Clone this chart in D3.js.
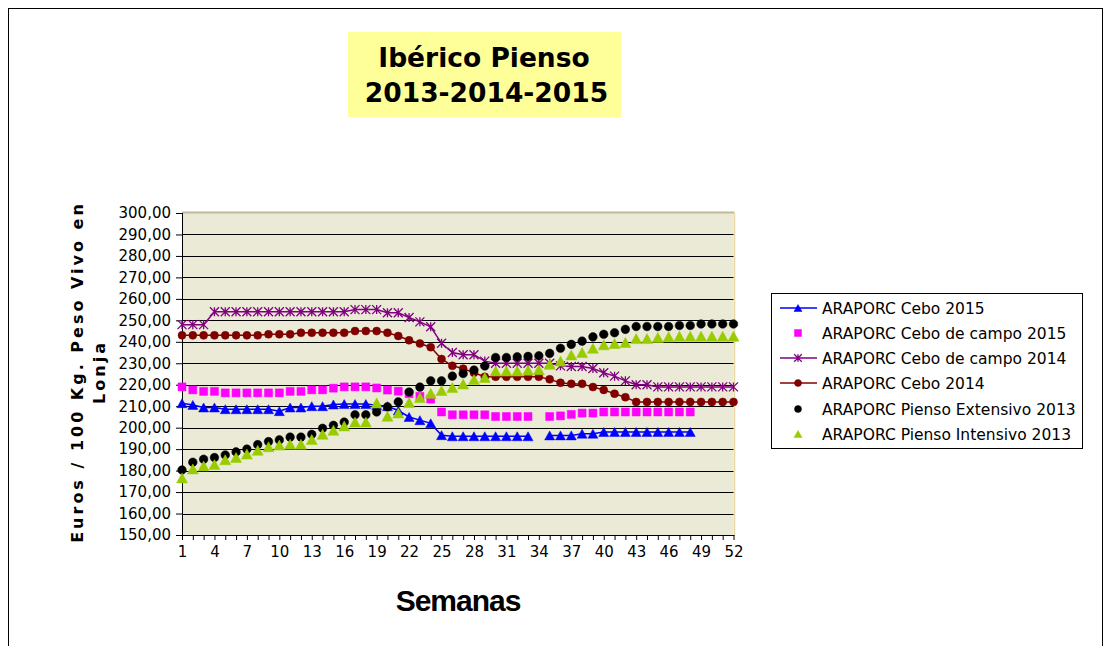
<!DOCTYPE html>
<html>
<head>
<meta charset="utf-8">
<script src="https://cdn.jsdelivr.net/npm/d3@7/dist/d3.min.js"></script>
<style>
  html, body { margin: 0; padding: 0; background: #ffffff; }
  svg { display: block; }
</style>
</head>
<body>
<svg id="chart" width="1110" height="646"></svg>
<script>
// ---------- DATA ----------
const weeks = [1,2,3,4,5,6,7,8,9,10,11,12,13,14,15,16,17,18,19,20,21,22,23,24,25,26,
  27,28,29,30,31,32,33,34,35,36,37,38,39,40,41,42,43,44,45,46,47,48,49,50,51,52];
const weekLabels = [1,4,7,10,13,16,19,22,25,28,31,34,37,40,43,46,49,52];
const yTicks = [150,160,170,180,190,200,210,220,230,240,250,260,270,280,290,300];

const seriesNames = [
  "ARAPORC Cebo 2015",
  "ARAPORC Cebo de campo 2015",
  "ARAPORC Cebo de campo 2014",
  "ARAPORC Cebo 2014",
  "ARAPORC Pienso Extensivo 2013",
  "ARAPORC Pienso Intensivo 2013"
];

const cebo2015 = [
  211.4,210.6,209.4,209.4,208.6,208.6,208.6,208.6,208.6,207.7,
  209.4,209.4,210,210,210.8,211,211,211,210.5,210,
  208,205,203.5,202,196.5,196,196,196,196,196,
  196,196,196,null,196.4,196.4,196.4,197.2,197.2,198,
  198,198,198,198,198,198,198,198,null,null,
  null,null];
const campo2015 = [
  219,217.6,216.9,216.9,216.2,216.2,216.2,216.2,216.2,216.2,
  216.9,216.9,217.6,217.6,218.4,219,219,219,218.5,217.5,
  217,215.8,214.6,213.3,207.3,206,206,206,206,205.2,
  205.2,205.2,205.2,null,205.2,205.5,206.2,206.8,206.8,207.3,
  207.3,207.3,207.3,207.3,207.3,207.3,207.3,207.3,null,null,
  null,null];
const campo2014 = [
  248,248,248,254,254,254,254,254,254,254,
  254,254,254,254,254,254,255,255,255,253.5,
  253.5,251.3,249.3,247,239.3,235,234,234,231,230,
  230,230,230,230,230,228.8,228.5,228.5,227.6,225.6,
  224,221.8,220,220,219,219,219,219,219,219,
  219,219];
const cebo2014 = [
  243,243,243,243,243,243,243,243,243.5,243.5,
  243.5,244.2,244.2,244.2,244.2,244.2,245,245,245,244.2,
  242.7,240.7,239.2,237.5,232,228.8,227.5,225.6,223.7,223.7,
  223.7,223.7,223.7,223.7,222.5,220.9,220.4,220.4,218.9,217.6,
  215.8,214.2,212,212,212,212,212,212,212,212,
  212,212];
const extensivo2013 = [
  180.3,183.9,185.3,186.1,187.3,188.7,190,192.1,193.5,194.3,
  195.6,195.6,196.9,199.7,201.1,202.6,206,206,207.3,209.7,
  212,216.6,218.9,221.8,221.8,224,225.2,226.8,228.7,232.7,
  232.7,233,233.2,233.5,234.6,237,238.8,240.3,242.3,243.5,
  244.2,245.8,247.1,247.1,247.1,247.1,247.6,247.6,248.3,248.3,
  248.3,248.3];
const intensivo2013 = [
  176.6,180.8,182.2,182.8,185.1,186.1,187.7,189.5,191.1,191.9,
  192.3,192.3,194.5,196.9,198.8,200.8,202.6,202.6,211.5,205.3,
  206.8,211.7,214,216,217.3,218.7,220.3,222.4,223.4,226.4,
  226.4,226.4,226.8,227,229.5,231,233.9,235,237,238.6,
  239.2,239.7,241.5,241.5,242,242.3,242.6,242.6,242.6,242.6,
  242.6,242.6];

// ---------- SETUP ----------
const svg = d3.select("#chart");
const plot = { left: 182, right: 733.5, top: 213, bottom: 535 };

const x = d3.scalePoint().domain(weeks).range([plot.left, plot.right]).padding(0);
const y = d3.scaleLinear().domain([150, 300]).range([plot.bottom, plot.top]);

// outer border
svg.append("rect").attr("x", 8.5).attr("y", 8.5).attr("width", 1094).attr("height", 700)
  .attr("fill", "none").attr("stroke", "#000").attr("stroke-width", 1);

// title box
svg.append("rect").attr("x", 348).attr("y", 32).attr("width", 273).attr("height", 85)
  .attr("fill", "#FFFF99");
svg.append("text").attr("x", 484).attr("y", 67).attr("text-anchor", "middle")
  .attr("font-family", "DejaVu Sans, Verdana, sans-serif").attr("font-weight", "bold")
  .attr("font-size", "26.5px").attr("fill", "#000").text("Ibérico Pienso");
svg.append("text").attr("x", 486.5).attr("y", 102).attr("text-anchor", "middle")
  .attr("font-family", "DejaVu Sans, Verdana, sans-serif").attr("font-weight", "bold")
  .attr("font-size", "26.5px").attr("fill", "#000").text("2013-2014-2015");

// plot background
svg.append("rect").attr("x", plot.left).attr("y", plot.top)
  .attr("width", plot.right - plot.left).attr("height", plot.bottom - plot.top)
  .attr("fill", "#EAEAD7");
svg.append("line").attr("x1", plot.left).attr("x2", plot.right + 1).attr("y1", plot.top - 0.5).attr("y2", plot.top - 0.5)
  .attr("stroke", "#BDB99C").attr("stroke-width", 2);
svg.append("line").attr("x1", plot.right + 1).attr("x2", plot.right + 1).attr("y1", plot.top).attr("y2", plot.bottom)
  .attr("stroke", "#E8D9A3").attr("stroke-width", 1.5);

// gridlines
svg.append("g").selectAll("line").data(yTicks.filter(v => v > 150 && v < 300)).join("line")
  .attr("x1", plot.left).attr("x2", plot.right)
  .attr("y1", d => Math.round(y(d)) + 0.5).attr("y2", d => Math.round(y(d)) + 0.5)
  .attr("stroke", "#000").attr("stroke-width", 1);

// y axis
const fmt = v => d3.format(".2f")(v).replace(".", ",");
const yAxis = d3.axisLeft(y).tickValues(yTicks).tickFormat(fmt).tickSize(6).tickPadding(5);
const gy = svg.append("g").attr("transform", `translate(${plot.left},0)`).call(yAxis);
gy.select(".domain").attr("stroke", "#000").attr("d", `M0.5,${plot.top}V${plot.bottom}`);
gy.selectAll(".tick line").attr("stroke", "#000");
gy.selectAll("text").attr("font-family", "DejaVu Sans, Verdana, sans-serif")
  .attr("font-size", "15px").attr("fill", "#000");

// x axis
const xAxis = d3.axisBottom(x).tickValues(weeks).tickSize(5).tickPadding(6)
  .tickFormat(d => weekLabels.includes(d) ? d : "");
const gx = svg.append("g").attr("transform", `translate(0,${plot.bottom})`).call(xAxis);
gx.select(".domain").attr("stroke", "#000").attr("d", `M${plot.left},0.5H${plot.right + 1}`);
gx.selectAll(".tick line").attr("stroke", "#000");
gx.selectAll("text").attr("font-family", "DejaVu Sans, Verdana, sans-serif")
  .attr("font-size", "15px").attr("fill", "#000").attr("dy", "0.75em");

// axis titles
svg.append("text").attr("x", 458).attr("y", 611).attr("text-anchor", "middle")
  .attr("font-family", "Liberation Sans, Arial, sans-serif").attr("font-weight", "bold")
  .attr("font-size", "30px").attr("letter-spacing", "-1px").attr("fill", "#000").text("Semanas");
const yt = svg.append("text").attr("transform", "translate(83,372) rotate(-90)")
  .attr("text-anchor", "middle").attr("font-family", "DejaVu Sans, Verdana, sans-serif")
  .attr("font-weight", "bold").attr("font-size", "16px").attr("letter-spacing", "3px").attr("fill", "#000");
yt.append("tspan").attr("x", 0).attr("y", 0).text("Euros / 100 Kg. Peso Vivo en");
yt.append("tspan").attr("x", 0).attr("y", 22).text("Lonja");

// ---------- MARKERS ----------
function triPath(w, h) { return `M0,${-h/2}L${w/2},${h/2}L${-w/2},${h/2}Z`; }
function starPath(s) { return `M${-s},${-s}L${s},${s}M${-s},${s}L${s},${-s}M0,${-s}L0,${s}`; }
function sqPath(s) { return `M${-s},${-s}H${s}V${s}H${-s}Z`; }
function circPath(r) { return `M${r},0A${r},${r} 0 1,1 ${-r},0A${r},${r} 0 1,1 ${r},0Z`; }

const series = [
  { name: seriesNames[0], values: cebo2015, color: "#0000FF", line: true,
    marker: triPath(10, 9), mFill: true, legendMarker: triPath(8, 7) },
  { name: seriesNames[1], values: campo2015, color: "#FF00FF", line: false,
    marker: sqPath(4), mFill: true, legendMarker: sqPath(3.5) },
  { name: seriesNames[2], values: campo2014, color: "#800080", line: true,
    marker: starPath(4.5), mFill: false, legendMarker: starPath(3.8) },
  { name: seriesNames[3], values: cebo2014, color: "#800000", line: true,
    marker: circPath(4), mFill: true, legendMarker: circPath(3.5) },
  { name: seriesNames[4], values: extensivo2013, color: "#000000", line: false,
    marker: circPath(4.3), mFill: true, legendMarker: circPath(3.5) },
  { name: seriesNames[5], values: intensivo2013, color: "#99CC00", line: false,
    marker: triPath(11, 10), mFill: true, legendMarker: triPath(8, 7) }
];

const lineGen = d3.line().defined(d => d.v != null).x(d => x(d.w)).y(d => y(d.v));

series.forEach(s => {
  const pts = weeks.map((w, i) => ({ w, v: s.values[i] }));
  const g = svg.append("g");
  if (s.line) {
    g.append("path").attr("d", lineGen(pts)).attr("fill", "none")
      .attr("stroke", s.color).attr("stroke-width", 1.5);
  }
  g.selectAll("path.m").data(pts.filter(d => d.v != null)).join("path").attr("class", "m")
    .attr("transform", d => `translate(${x(d.w)},${y(d.v)})`)
    .attr("d", s.marker)
    .attr("fill", s.mFill ? s.color : "none")
    .attr("stroke", s.color).attr("stroke-width", s.mFill ? 0.5 : 1.3);
});

// ---------- LEGEND ----------
const lg = svg.append("g");
lg.append("rect").attr("x", 771.5).attr("y", 293.5).attr("width", 311).attr("height", 155)
  .attr("fill", "#fff").attr("stroke", "#000").attr("stroke-width", 1);
const rowY = [308, 333, 358, 383, 409, 434];
series.forEach((s, i) => {
  const ry = rowY[i];
  if (s.line) {
    lg.append("line").attr("x1", 780).attr("x2", 817).attr("y1", ry).attr("y2", ry)
      .attr("stroke", s.color).attr("stroke-width", 1.5);
  }
  lg.append("path").attr("transform", `translate(798,${ry})`).attr("d", s.legendMarker)
    .attr("fill", s.mFill ? s.color : "none").attr("stroke", s.color)
    .attr("stroke-width", s.mFill ? 0.5 : 1.3);
  lg.append("text").attr("x", 822).attr("y", ry).attr("dy", "0.36em")
    .attr("font-family", "DejaVu Sans, Verdana, sans-serif").attr("font-size", "15.5px")
    .attr("fill", "#000").text(s.name);
});
</script>
</body>
</html>
